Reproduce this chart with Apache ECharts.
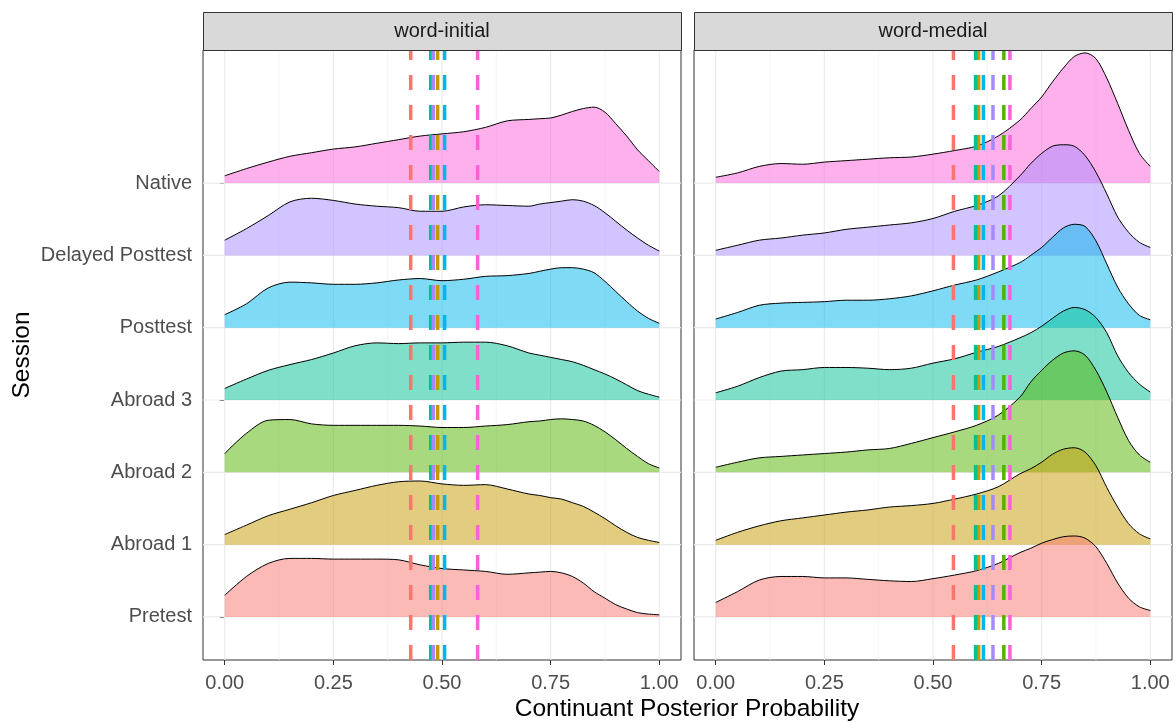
<!DOCTYPE html>
<html><head><meta charset="utf-8">
<script src="https://cdn.jsdelivr.net/npm/echarts@6/dist/echarts.min.js"></script>
<style>html,body{margin:0;padding:0;background:#fff}#c{width:1176px;height:722px}</style>
</head><body><div id="c"></div>
<script>
const sessions = ['Pretest','Abroad 1','Abroad 2','Abroad 3','Posttest','Delayed Posttest','Native'];
const sessionColors = ['#F8766D','#C49A00','#53B400','#00C094','#00B6EB','#A58AFF','#FB61D7'];
const panels = ['word-initial','word-medial'];
const xs = [0,0.05,0.1,0.15,0.2,0.25,0.3,0.35,0.4,0.45,0.5,0.55,0.6,0.65,0.7,0.725,0.75,0.775,0.8,0.825,0.85,0.875,0.9,0.925,0.95,0.975,1];
const xTickLabels = [0,0.25,0.5,0.75,1];
const xGridLines = [0,0.125,0.25,0.375,0.5,0.625,0.75,0.875,1];
const yLevels = [1,2,3,4,5,6,7];

// ridge heights (in row units) for word-initial
const initPretest  = [0.30,0.56,0.74,0.81,0.81,0.80,0.80,0.80,0.79,0.72,0.67,0.65,0.63,0.59,0.61,0.62,0.63,0.61,0.56,0.47,0.35,0.26,0.17,0.11,0.06,0.04,0.03];
const initAbroad1  = [0.14,0.27,0.40,0.49,0.58,0.68,0.75,0.82,0.87,0.88,0.84,0.82,0.83,0.77,0.70,0.68,0.65,0.63,0.58,0.53,0.45,0.36,0.26,0.17,0.10,0.06,0.03];
const initAbroad2  = [0.26,0.54,0.72,0.73,0.67,0.65,0.65,0.65,0.65,0.64,0.62,0.62,0.64,0.66,0.70,0.71,0.73,0.74,0.73,0.71,0.65,0.56,0.45,0.33,0.22,0.12,0.06];
const initAbroad3  = [0.16,0.29,0.41,0.49,0.56,0.65,0.75,0.79,0.78,0.79,0.79,0.80,0.80,0.75,0.65,0.62,0.59,0.56,0.53,0.48,0.42,0.36,0.29,0.21,0.13,0.08,0.04];
const initPosttest = [0.18,0.33,0.55,0.63,0.62,0.60,0.60,0.62,0.66,0.68,0.65,0.67,0.71,0.72,0.75,0.78,0.81,0.83,0.83,0.81,0.76,0.64,0.50,0.36,0.23,0.13,0.06];
const initDelayed  = [0.21,0.37,0.55,0.74,0.79,0.76,0.71,0.68,0.66,0.61,0.61,0.67,0.70,0.69,0.68,0.71,0.73,0.75,0.77,0.75,0.69,0.59,0.47,0.35,0.24,0.14,0.06];
const initNative   = [0.10,0.20,0.29,0.37,0.42,0.47,0.50,0.55,0.60,0.65,0.68,0.71,0.77,0.86,0.88,0.89,0.90,0.94,0.99,1.03,1.05,0.98,0.82,0.65,0.46,0.31,0.16];

// ridge heights (in row units) for word-medial
const medPretest  = [0.20,0.35,0.51,0.56,0.56,0.54,0.54,0.52,0.50,0.49,0.53,0.58,0.64,0.74,0.89,0.95,1.02,1.07,1.11,1.12,1.09,0.97,0.74,0.47,0.26,0.14,0.09];
const medAbroad1  = [0.06,0.17,0.26,0.33,0.37,0.41,0.45,0.48,0.52,0.54,0.57,0.63,0.70,0.80,0.98,1.05,1.14,1.25,1.32,1.34,1.28,1.09,0.79,0.52,0.29,0.15,0.08];
const medAbroad2  = [0.07,0.14,0.20,0.22,0.24,0.26,0.28,0.31,0.33,0.40,0.48,0.56,0.65,0.79,1.04,1.25,1.41,1.55,1.65,1.68,1.62,1.41,1.11,0.76,0.44,0.24,0.14];
const medAbroad3  = [0.10,0.19,0.31,0.40,0.42,0.45,0.45,0.44,0.42,0.44,0.51,0.57,0.66,0.74,0.86,0.93,1.02,1.13,1.23,1.28,1.25,1.14,0.93,0.61,0.38,0.22,0.11];
const medPosttest = [0.12,0.21,0.31,0.34,0.35,0.36,0.38,0.38,0.40,0.44,0.51,0.59,0.66,0.77,0.90,1.00,1.11,1.25,1.38,1.43,1.40,1.20,0.88,0.56,0.33,0.17,0.11];
const medDelayed  = [0.07,0.14,0.21,0.24,0.28,0.31,0.36,0.39,0.42,0.45,0.51,0.61,0.69,0.82,1.10,1.27,1.41,1.51,1.53,1.51,1.38,1.15,0.85,0.53,0.32,0.18,0.11];
const medNative   = [0.08,0.14,0.23,0.27,0.26,0.29,0.31,0.33,0.35,0.36,0.40,0.45,0.51,0.65,0.87,1.03,1.19,1.40,1.59,1.75,1.80,1.72,1.45,1.10,0.73,0.41,0.23];

// session means (dashed vertical lines)
const initMeans = [0.428,0.490,0.477,0.474,0.506,0.480,0.582];
const medMeans  = [0.547,0.605,0.663,0.598,0.616,0.638,0.677];

const ridgeData = [
  [initPretest,initAbroad1,initAbroad2,initAbroad3,initPosttest,initDelayed,initNative],
  [medPretest,medAbroad1,medAbroad2,medAbroad3,medPosttest,medDelayed,medNative]
];
const meansData = [initMeans, medMeans];

const X_MIN = -0.05, X_MAX = 1.05, Y_MIN = 0.405, Y_MAX = 8.84;
const FONT = "'Liberation Sans', Arial, sans-serif";

function hexA(hex, a){
  const r = parseInt(hex.slice(1,3),16), g = parseInt(hex.slice(3,5),16), b = parseInt(hex.slice(5,7),16);
  return `rgba(${r},${g},${b},${a})`;
}

const grids = [
  {left:203, top:50, width:478, height:610, show:true, borderColor:'#333333', borderWidth:1, backgroundColor:'#fff'},
  {left:694, top:50, width:478, height:610, show:true, borderColor:'#333333', borderWidth:1, backgroundColor:'#fff'}
];
const xAxes = [0,1].map(p => ({
  type:'value', gridIndex:p, min:X_MIN, max:X_MAX,
  axisLine:{show:false}, splitLine:{show:false},
  axisTick:{show:true, customValues:xTickLabels, length:5, lineStyle:{color:'#333333', width:1}},
  axisLabel:{customValues:xTickLabels, formatter:v=>v.toFixed(2), color:'#4D4D4D', fontSize:20, fontFamily:FONT, margin:13}
}));
const yAxes = [0,1].map(p => ({
  type:'value', gridIndex:p, min:Y_MIN, max:Y_MAX,
  axisLine:{show:false}, splitLine:{show:false},
  axisTick:{show:p===0, customValues:yLevels, length:5, lineStyle:{color:'#333333', width:1}},
  axisLabel:{show:p===0, customValues:yLevels, formatter:v=>sessions[Math.round(v)-1], color:'#4D4D4D', fontSize:20, fontFamily:FONT, margin:11},
  name: p===0 ? 'Session' : '', nameLocation:'middle', nameGap:168, nameRotate:90,
  nameTextStyle:{color:'#000', fontSize:24.5, fontFamily:FONT}
}));

const series = [];
// grid lines
[0,1].forEach(p => {
  xGridLines.forEach(v => {
    series.push({type:'line', xAxisIndex:p, yAxisIndex:p, data:[[v,Y_MIN],[v,Y_MAX]], showSymbol:false, silent:true,
      lineStyle:{color: (v*4)%1===0 ? '#EBEBEB' : '#F2F2F2', width: (v*4)%1===0 ? 1.2 : 0.8}, z:1});
  });
  yLevels.forEach(v => {
    series.push({type:'line', xAxisIndex:p, yAxisIndex:p, data:[[X_MIN,v],[X_MAX,v]], showSymbol:false, silent:true,
      lineStyle:{color:'#EBEBEB', width:1.2}, z:1});
  });
});
// ridges: top row first so lower rows are drawn over
[0,1].forEach(p => {
  for (let s = sessions.length-1; s >= 0; s--) {
    const base = yLevels[s];
    const dens = ridgeData[p][s];
    series.push({
      type:'line', name:sessions[s], xAxisIndex:p, yAxisIndex:p,
      data: xs.map((x,i)=>[x, base + dens[i]]),
      smooth:0.3, showSymbol:false, silent:true,
      lineStyle:{color:'#000', width:1},
      areaStyle:{origin:base, color:hexA(sessionColors[s],0.5), opacity:1},
      z:2
    });
  }
});
// dashed mean lines
[0,1].forEach(p => {
  sessions.forEach((s,i) => {
    series.push({type:'line', xAxisIndex:p, yAxisIndex:p, data:[[meansData[p][i],Y_MIN],[meansData[p][i],Y_MAX]],
      showSymbol:false, silent:true, lineStyle:{color:sessionColors[i], width:3.5, type:[15,15], cap:'butt'}, z:3});
  });
});

const graphic = [];
panels.forEach((name,p) => {
  const g = grids[p];
  graphic.push({type:'rect', left:g.left, top:12, shape:{x:0,y:0,width:g.width,height:38},
    style:{fill:'#D9D9D9', stroke:'#333333', lineWidth:1}, z:10});
  graphic.push({type:'text', x:g.left+g.width/2, y:31, style:{text:name, fill:'#1A1A1A', font:`20px ${FONT}`, align:'center', verticalAlign:'middle'}, z:11});
});
graphic.push({type:'text', x:687, y:709, style:{text:'Continuant Posterior Probability', fill:'#000', font:`24.5px ${FONT}`, align:'center', verticalAlign:'middle'}, z:11});

const chart = echarts.init(document.getElementById('c'), null, {renderer:'canvas'});
chart.setOption({
  animation:false, backgroundColor:'#fff',
  grid:grids, xAxis:xAxes, yAxis:yAxes, series:series, graphic:graphic
});
</script></body></html>
